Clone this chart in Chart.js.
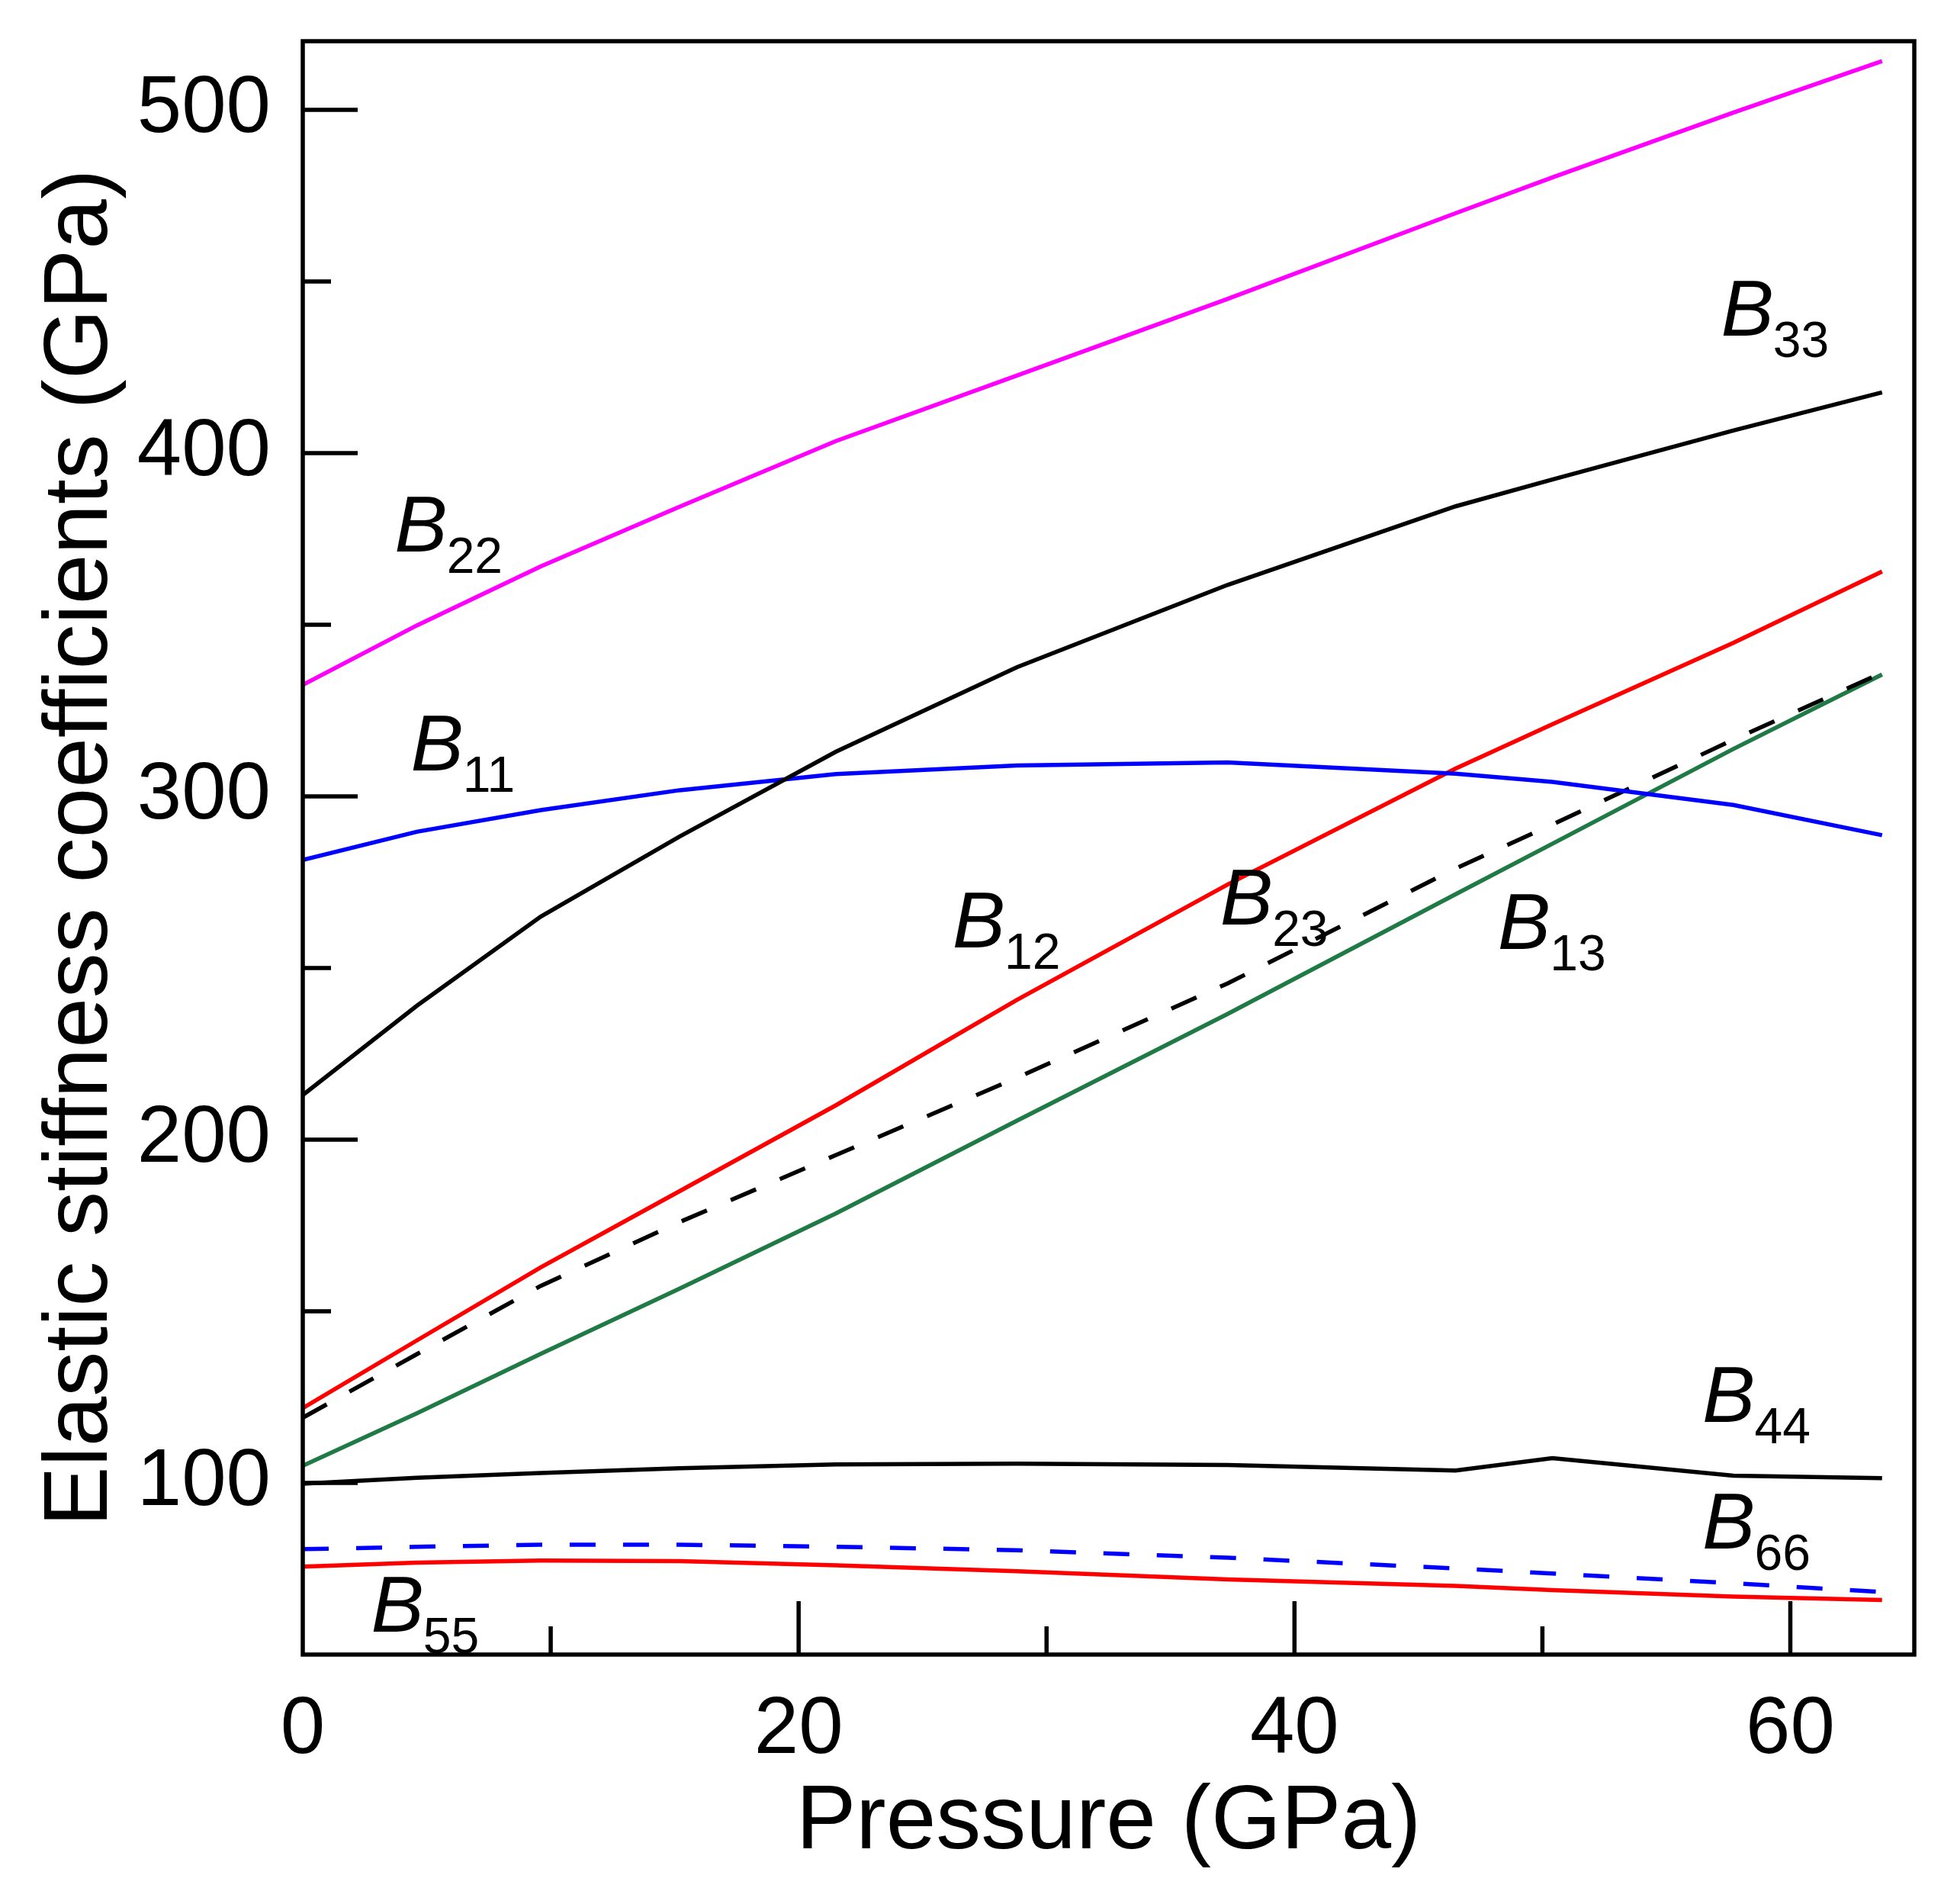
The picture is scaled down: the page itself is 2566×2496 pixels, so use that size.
<!DOCTYPE html>
<html>
<head>
  <meta charset="utf-8">
  <title>Elastic stiffness coefficients</title>
  <style>
    html, body { margin: 0; padding: 0; background: #ffffff; }
    #wrap { width: 2566px; height: 2496px; }
  </style>
</head>
<body>
  <div id="wrap"><canvas id="stiffChart" width="2566" height="2496"></canvas></div>

  <script src="https://cdn.jsdelivr.net/npm/chart.js"></script>
  <script>
    const pressure = [0, 4.6, 9.6, 15.2, 21.5, 28.8, 37.3, 46.5, 50.4, 57.7, 63.7];

    const b22 = [332.5, 349.8, 367.0, 384.4, 403.5, 422.6, 444.9, 469.9, 480.3, 499.2, 514.2];
    const b33 = [213.0, 239.0, 265.0, 288.3, 313.0, 337.6, 361.6, 384.5, 392.3, 406.6, 417.7];
    const b11 = [281.5, 289.7, 296.0, 301.8, 306.5, 309.0, 309.9, 306.6, 304.2, 297.5, 288.7];
    const b12 = [121.8, 141.5, 162.8, 185.0, 210.0, 240.7, 274.3, 308.1, 321.0, 344.7, 365.5];
    const b23 = [119.0, 137.5, 157.4, 176.0, 195.5, 218.0, 245.5, 279.0, 291.8, 316.5, 336.0];
    const b13 = [105.0, 120.3, 137.6, 156.6, 178.5, 205.5, 236.6, 271.5, 286.2, 313.8, 335.5];
    const b44 = [99.8, 101.5, 102.9, 104.3, 105.4, 105.6, 105.2, 103.6, 107.2, 102.1, 101.4];
    const b66 = [80.7, 81.4, 82.0, 82.0, 81.4, 80.4, 78.2, 75.1, 73.6, 70.8, 68.2];
    const b55 = [75.6, 76.8, 77.4, 77.2, 76.0, 74.3, 71.9, 70.0, 68.8, 66.9, 65.9];

    const xTickLabels = [0, 20, 40, 60];
    const xMinorTicks = [10, 30, 50];
    const yTickLabels = [100, 200, 300, 400, 500];
    const yMinorTicks = [150, 250, 350, 450];

    // where each curve name sits (pressure, stiffness of the B baseline)
    const curveLabels = [
      { sub: '22', p: 3.7, v: 371.3 },
      { sub: '11', p: 4.35, v: 307.6 },
      { sub: '33', p: 57.2, v: 434.2 },
      { sub: '12', p: 26.2, v: 256.0 },
      { sub: '23', p: 37.0, v: 262.7 },
      { sub: '13', p: 48.2, v: 255.6 },
      { sub: '44', p: 56.45, v: 117.8 },
      { sub: '66', p: 56.45, v: 80.9 },
      { sub: '55', p: 2.75, v: 56.7 }
    ];

    const FONT = "'Liberation Sans', Arial, sans-serif";

    function series(values, color, dash) {
      return {
        data: pressure.map((p, i) => ({ x: p, y: values[i] })),
        borderColor: color,
        backgroundColor: color,
        borderWidth: 5.5,
        borderDash: dash || [],
        pointRadius: 0,
        fill: false,
        tension: 0
      };
    }

    // box frame, inward ticks and the B_ij names
    const frameAndLabels = {
      id: 'frameAndLabels',
      afterDatasetsDraw(chart) {
        const ctx = chart.ctx;
        const a = chart.chartArea;
        const x = chart.scales.x;
        const y = chart.scales.y;

        ctx.save();
        ctx.strokeStyle = '#000000';
        ctx.lineWidth = 5.5;
        ctx.lineCap = 'butt';
        ctx.beginPath();
        yTickLabels.forEach(v => {
          const py = y.getPixelForValue(v);
          ctx.moveTo(a.left, py);
          ctx.lineTo(a.left + 72, py);
        });
        yMinorTicks.forEach(v => {
          const py = y.getPixelForValue(v);
          ctx.moveTo(a.left, py);
          ctx.lineTo(a.left + 37, py);
        });
        xTickLabels.forEach(v => {
          if (v === 0) return;
          const px = x.getPixelForValue(v);
          ctx.moveTo(px, a.bottom);
          ctx.lineTo(px, a.bottom - 70);
        });
        xMinorTicks.forEach(v => {
          const px = x.getPixelForValue(v);
          ctx.moveTo(px, a.bottom);
          ctx.lineTo(px, a.bottom - 37);
        });
        ctx.stroke();
        ctx.strokeRect(a.left, a.top, a.right - a.left, a.bottom - a.top);

        ctx.fillStyle = '#000000';
        ctx.textAlign = 'left';
        ctx.textBaseline = 'alphabetic';
        curveLabels.forEach(l => {
          const px = x.getPixelForValue(l.p);
          const py = y.getPixelForValue(l.v);
          ctx.font = 'italic 104px ' + FONT;
          ctx.fillText('B', px, py);
          const w = ctx.measureText('B').width;
          ctx.font = '66px ' + FONT;
          ctx.fillText(l.sub, px + w - 1, py + 28);
        });
        ctx.restore();
      }
    };

    const ctx = document.getElementById('stiffChart');

    new Chart(ctx, {
      type: 'line',
      data: {
        datasets: [
          series(b22, '#ff00ff'),
          series(b33, '#000000'),
          series(b11, '#0000ff'),
          series(b12, '#ff0000'),
          series(b23, '#000000', [36, 34]),
          series(b13, '#1f7a45'),
          series(b44, '#000000'),
          series(b66, '#0000ff', [34, 36]),
          series(b55, '#ff0000')
        ]
      },
      options: {
        responsive: false,
        devicePixelRatio: 1,
        animation: false,
        layout: { padding: { left: 0, right: 56, top: 54, bottom: 0 } },
        plugins: {
          legend: { display: false },
          tooltip: { enabled: false }
        },
        scales: {
          x: {
            type: 'linear',
            position: 'bottom',
            min: 0,
            max: 65,
            grid: { display: false, drawTicks: false },
            border: { display: false },
            ticks: {
              stepSize: 20,
              includeBounds: false,
              maxRotation: 0,
              autoSkip: false,
              padding: 37,
              color: '#000000',
              font: { family: FONT, size: 105 },
              callback: v => xTickLabels.includes(v) ? String(v) : ''
            },
            title: {
              display: true,
              text: 'Pressure (GPa)',
              color: '#000000',
              font: { family: FONT, size: 118 },
              padding: { top: 0, bottom: 35 }
            },
            afterFit(scale) {
              scale.height = 327;
              scale.paddingLeft = 0;
              scale.paddingRight = 0;
            }
          },
          y: {
            type: 'linear',
            position: 'left',
            min: 50,
            max: 520,
            grid: { display: false, drawTicks: false },
            border: { display: false },
            ticks: {
              stepSize: 100,
              includeBounds: false,
              autoSkip: false,
              padding: 42,
              color: '#000000',
              font: { family: FONT, size: 105 },
              callback: v => yTickLabels.includes(v) ? String(v) : ''
            },
            title: {
              display: true,
              text: 'Elastic stiffness coefficients (GPa)',
              color: '#000000',
              font: { family: FONT, size: 118 },
              padding: { top: 37, bottom: 0 }
            },
            afterFit(scale) {
              scale.width = 397;
              scale.paddingTop = 0;
              scale.paddingBottom = 0;
            }
          }
        }
      },
      plugins: [frameAndLabels]
    });
  </script>
</body>
</html>
